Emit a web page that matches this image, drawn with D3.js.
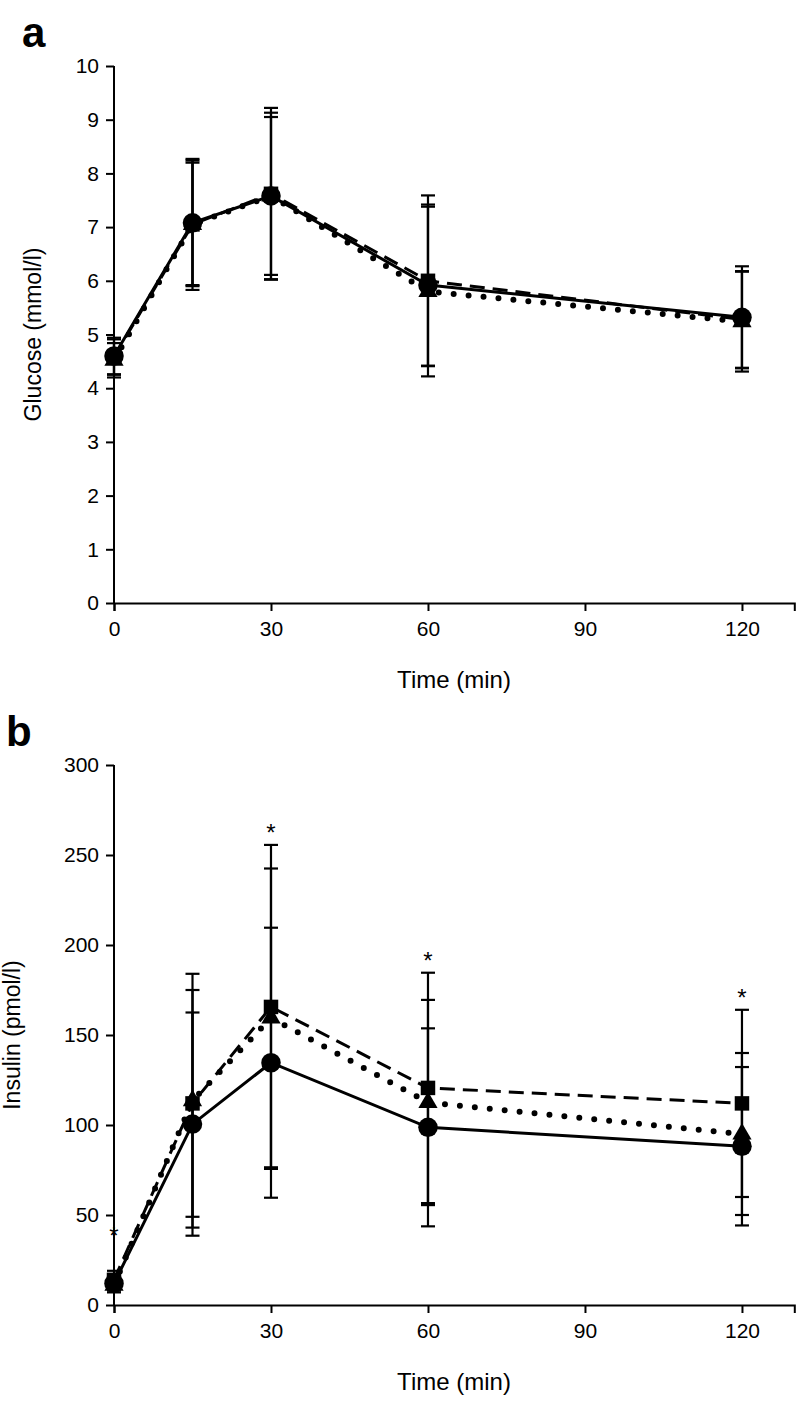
<!DOCTYPE html>
<html><head><meta charset="utf-8">
<script src="https://cdn.jsdelivr.net/npm/d3@7/dist/d3.min.js"></script>
<style>
body{margin:0;background:#fff;}
text{font-family:"Liberation Sans",Arial,Helvetica,sans-serif;fill:#000;}
</style></head>
<body><svg id="c" width="796" height="1404"></svg>
<script>
// ---- data ----
const times = [0, 15, 30, 60, 120];
const xTicks = [0, 30, 60, 90, 120];
const glucoseTicks = [0,1,2,3,4,5,6,7,8,9,10];
const insulinTicks = [0,50,100,150,200,250,300];

// Glucose (mmol/l): mean and SD per group
const glucoseCircle   = [4.60, 7.08, 7.58, 5.92, 5.32];
const glucoseCircleSD = [0.34, 1.16, 1.47, 1.50, 0.95];
const glucoseSquare   = [4.58, 7.05, 7.62, 6.00, 5.28];
const glucoseSquareSD = [0.33, 1.15, 1.60, 1.59, 0.90];
const glucoseTriangle   = [4.52, 7.05, 7.58, 5.80, 5.24];
const glucoseTriangleSD = [0.32, 1.22, 1.55, 1.58, 0.93];

// Insulin (pmol/l)
const insulinCircle   = [12, 100.5, 134.6, 98.7, 88.2];
const insulinCircleSD = [4, 62, 75, 55, 44];
const insulinSquare   = [14, 112, 165.6, 120.6, 112];
const insulinSquareSD = [5, 63, 90, 64, 52];
const insulinTriangle   = [11, 113.5, 159.5, 112.5, 95];
const insulinTriangleSD = [4, 70.5, 83, 57, 45];

// significance markers (time, value level of the asterisk)
const insulinStarTimes  = [0, 30, 60, 120];
const insulinStarLevels = [40, 264, 193, 172];

const svg = d3.select("#c");

function panel(cfg){
  const x = d3.scaleLinear().domain([0,130]).range([114, 794.3]);
  const y = d3.scaleLinear().domain(cfg.ydom).range([cfg.y0, cfg.y1]);
  const g = svg.append("g");

  // axes
  const ya = g.append("g").attr("transform",`translate(${x(0)},0)`)
    .call(d3.axisLeft(y).tickValues(cfg.yticks).tickSizeOuter(0).tickSize(8).tickPadding(7));
  const xa = g.append("g").attr("transform",`translate(0,${y(0)})`)
    .call(d3.axisBottom(x).tickValues(xTicks).tickSizeOuter(0).tickSize(8).tickPadding(10));
  [ya,xa].forEach(a=>{
    a.selectAll("path,line").attr("stroke","#000").attr("stroke-width",2);
    a.selectAll("text").attr("font-size",21).attr("font-family","Liberation Sans, Arial, sans-serif");
  });
  ya.select(".domain").attr("d",`M0,${y(cfg.ydom[0])}V${y(cfg.ydom[1])}`);

  // titles
  g.append("text").attr("x",454).attr("y",y(0)+85).attr("text-anchor","middle")
    .attr("font-size",24).text("Time (min)");
  g.append("text").attr("transform",`translate(${cfg.ytx},${(cfg.y0+cfg.y1)/2}) rotate(-90)`)
    .attr("text-anchor","middle").attr("font-size",23).text(cfg.ytitle);
  g.append("text").attr("x",cfg.lx).attr("y",cfg.ly).attr("font-size",42)
    .attr("font-weight","bold").text(cfg.letter);

  const series = cfg.series;
  const line = d3.line().x((d,i)=>x(times[i])).y(d=>y(d));

  // error bars
  series.forEach(s=>{
    const eb = g.append("g");
    s.mean.forEach((m,i)=>{
      const cx = x(times[i]), top = y(m + s.sd[i]), bot = y(m - s.sd[i]);
      eb.append("line").attr("x1",cx).attr("x2",cx).attr("y1",top).attr("y2",bot)
        .attr("stroke","#000").attr("stroke-width",2.2);
      [top,bot].forEach(yy=>eb.append("line").attr("x1",cx-7).attr("x2",cx+7)
        .attr("y1",yy).attr("y2",yy).attr("stroke","#000").attr("stroke-width",2.2));
    });
  });

  // lines
  series.forEach(s=>{
    const p = g.append("path").attr("d",line(s.mean)).attr("fill","none")
      .attr("stroke","#000");
    if(s.style==="solid") p.attr("stroke-width",3);
    if(s.style==="dash") p.attr("stroke-width",3).attr("stroke-dasharray","15,8");
    if(s.style==="dot") p.attr("stroke-width",6).attr("stroke-linecap","round").attr("stroke-dasharray","0,15");
  });

  // markers
  series.forEach(s=>{
    const sym = d3.symbol().type(s.sym).size(s.size);
    g.append("g").selectAll("path").data(s.mean).join("path")
      .attr("transform",(d,i)=>`translate(${x(times[i])},${y(d)})`)
      .attr("d",sym).attr("fill","#000");
  });

  // stars
  if(cfg.stars){
    cfg.stars.times.forEach((t,i)=>{
      g.append("text").attr("x",x(t)).attr("y",y(cfg.stars.levels[i])+11)
        .attr("text-anchor","middle").attr("font-size",24).text("*");
    });
  }
}

panel({
  ydom:[0,10], y0:603, y1:66, yticks:glucoseTicks, ytitle:"Glucose (mmol/l)", ytx:41,
  letter:"a", lx:22, ly:47,
  series:[
    {mean:glucoseTriangle, sd:glucoseTriangleSD, style:"dot", sym:d3.symbolTriangle, size:160},
    {mean:glucoseSquare, sd:glucoseSquareSD, style:"dash", sym:d3.symbolSquare, size:210},
    {mean:glucoseCircle, sd:glucoseCircleSD, style:"solid", sym:d3.symbolCircle, size:300}
  ]
});

panel({
  ydom:[0,300], y0:1305, y1:765, yticks:insulinTicks, ytitle:"Insulin (pmol/l)", ytx:20,
  letter:"b", lx:6, ly:746,
  series:[
    {mean:insulinTriangle, sd:insulinTriangleSD, style:"dot", sym:d3.symbolTriangle, size:160},
    {mean:insulinSquare, sd:insulinSquareSD, style:"dash", sym:d3.symbolSquare, size:210},
    {mean:insulinCircle, sd:insulinCircleSD, style:"solid", sym:d3.symbolCircle, size:300}
  ],
  stars:{times:insulinStarTimes, levels:insulinStarLevels}
});
</script></body></html>
